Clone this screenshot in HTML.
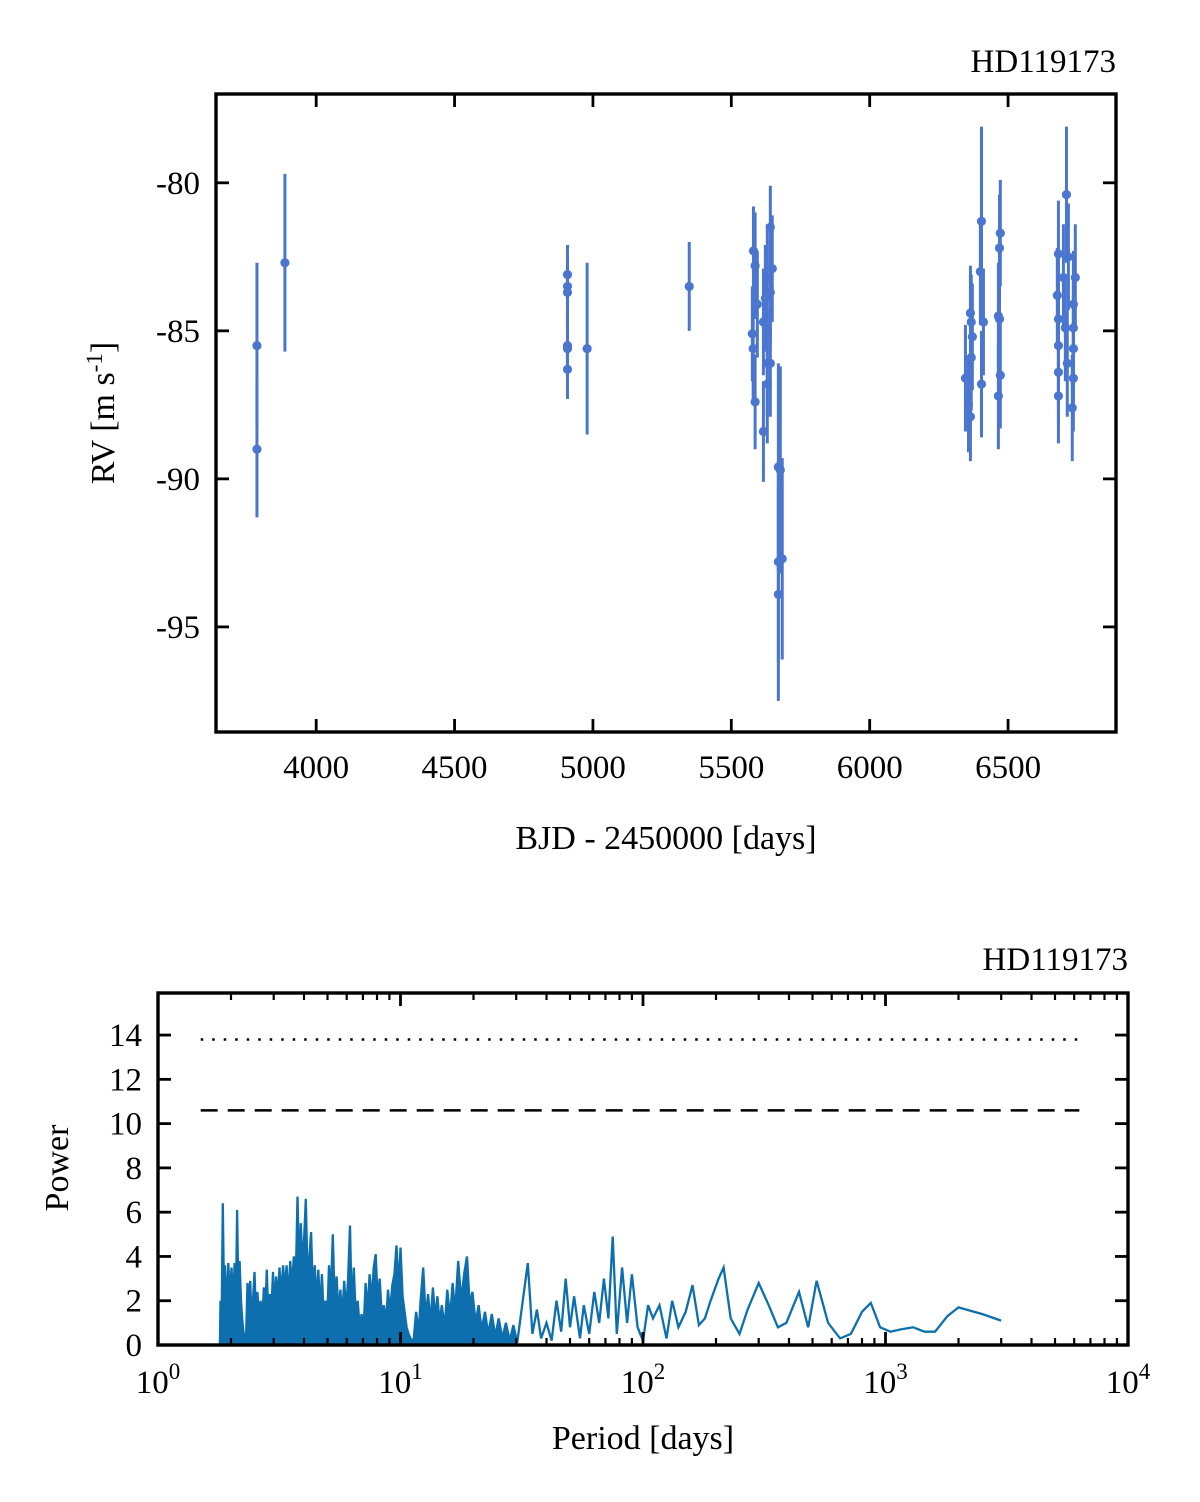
<!DOCTYPE html>
<html><head><meta charset="utf-8"><style>
html,body{margin:0;padding:0;background:#fff}
svg{display:block;font-family:"Liberation Serif",serif}
</style></head><body>
<svg id="svg" width="1200" height="1502" viewBox="0 0 1200 1502" xmlns="http://www.w3.org/2000/svg">
<g id="top"></g>
<g id="bot"></g>
</svg>
<script>
// ---- RV data: time, rv, error ----
const rvTime=[3786,3786,3887,4908,4908,4908,4908,4908,4908,4979,5348,
5641,5580,5586,5648,5630,5641,5594,5623,5616,5576,5579,5630,5641,5630,5586,5616,5670,5677,5684,5670,5670,
6404,6472,6469,6400,6364,6367,6371,6411,6465,6469,6367,6346,6404,6472,6465,6357,6364,
6711,6682,6718,6743,6678,6736,6682,6736,6682,6736,6682,6736,6682,6732,6707,6700,6714];
const rvValue=[-85.5,-89.0,-82.7,-83.1,-83.5,-83.7,-85.5,-85.6,-86.3,-85.6,-83.5,
-81.5,-82.3,-82.8,-82.9,-83.2,-83.7,-84.1,-83.9,-84.7,-85.1,-85.6,-86.1,-86.1,-86.8,-87.4,-88.4,-89.6,-89.7,-92.7,-92.8,-93.9,
-81.3,-81.7,-82.2,-83.0,-84.4,-84.7,-85.2,-84.7,-84.5,-84.6,-85.9,-86.6,-86.8,-86.5,-87.2,-87.5,-87.9,
-80.4,-82.4,-82.5,-83.2,-83.8,-84.1,-84.6,-84.9,-85.5,-85.6,-86.4,-86.6,-87.2,-87.6,-84.9,-83.2,-86.1];
const rvError=[2.8,2.3,3.0,1.0,1.0,1.0,1.0,1.0,1.0,2.9,1.5,
1.4,1.5,1.8,1.8,1.8,1.8,1.8,1.8,1.8,1.6,1.7,1.8,1.8,2.0,1.6,1.7,3.5,3.5,3.4,3.4,3.6,
3.2,1.8,1.8,1.8,1.6,1.6,1.8,1.8,1.8,1.8,1.8,1.8,1.8,1.8,1.8,1.6,1.5,
2.3,1.8,1.8,1.8,1.6,1.8,1.8,1.8,1.8,1.8,1.8,1.8,1.6,1.8,1.8,1.8,1.8];
const rvXTicks=[4000,4500,5000,5500,6000,6500];
const rvYTicks=[-80,-85,-90,-95];

// ---- Periodogram ----
const perPeriod=[1.80,1.81,1.83,1.85,1.87,1.89,1.92,1.95,1.98,2.01,2.04,2.07,2.10,2.12,2.14,2.17,2.20,2.23,2.27,2.31,2.34,2.37,2.40,2.43,2.47,2.50,2.53,2.57,2.61,2.65,2.69,2.73,2.77,2.81,2.85,2.89,2.93,2.98,3.02,3.07,3.12,3.17,3.22,3.28,3.33,3.39,3.45,3.51,3.57,3.63,3.70,3.76,3.82,3.88,3.94,4.01,4.07,4.14,4.21,4.28,4.35,4.43,4.50,4.58,4.66,4.74,4.82,4.90,4.98,5.07,5.16,5.26,5.35,5.45,5.55,5.65,5.75,5.86,5.97,6.08,6.19,6.30,6.42,6.54,6.66,6.78,6.91,7.04,7.18,7.32,7.46,7.60,7.75,7.90,8.05,8.21,8.37,8.54,8.71,8.88,9.06,9.25,9.44,9.63,9.83,10.0,10.2,10.4,10.6,10.8,11.0,11.3,11.6,11.9,12.1,12.4,12.7,13.0,13.3,13.6,13.9,14.2,14.5,14.8,15.2,15.6,16.0,16.4,16.8,17.3,17.8,18.3,18.8,19.3,19.8,20.4,21.0,21.6,22.3,23.0,23.8,24.6,25.4,26.3,27.2,28.2,29.2,30.3,
31.5,33.5,35,36.5,38,40,42,44,46,48,50,52,55,57,60,63,66,69,72,75,78,82,86,90,95,100,105,110,117,125,132,140,150,160,170,180,190,205,215,230,250,270,300,330,360,390,440,480,520,580,650,720,800,870,950,1050,1150,1300,1450,1600,1800,2000,2500,3000];
const perPower=[0,2.0,1.0,6.4,2.5,3.6,1.5,3.7,2.0,3.5,1.8,3.7,2.5,6.1,3.0,3.8,2.0,1.0,0.2,0.6,2.8,1.5,2.9,1.2,2.2,3.3,1.5,2.4,1.2,2.0,0.9,2.6,1.5,3.4,1.2,2.3,1.4,3.3,1.6,3.1,2.0,3.5,2.2,3.6,2.5,3.6,2.0,3.8,2.6,4.0,3.0,6.7,3.2,5.5,3.5,5.0,6.6,3.0,4.0,5.1,2.5,3.6,1.8,3.4,1.5,3.2,1.4,2.0,1.0,3.6,2.2,5.0,2.0,3.1,1.4,2.5,1.2,2.9,1.5,3.0,5.4,1.5,3.5,1.2,2.0,0.8,1.4,0.6,2.8,1.5,3.2,2.0,3.5,4.1,2.0,3.0,1.3,1.8,1.0,2.5,1.5,2.7,3.2,4.5,2.5,4.4,2.2,1.5,0.8,0.5,0.3,0.1,1.5,0.6,2.0,3.5,1.2,2.3,1.0,2.6,1.2,2.2,1.0,1.8,0.8,2.5,1.2,2.8,1.5,3.8,2.0,3.2,4.0,1.8,2.4,1.0,1.8,0.7,1.5,0.5,1.4,0.4,1.2,0.3,1.0,0.2,0.9,0.1,
1.5,3.7,0.5,1.6,0.3,1.0,0.2,2.0,0.6,3.0,0.8,2.2,0.3,1.8,0.5,2.4,1.0,3.0,1.2,4.9,0.5,3.5,1.0,3.2,0.8,0.2,1.8,1.2,1.8,0.3,2.0,0.8,1.5,2.7,0.9,1.2,2.0,3.0,3.5,1.2,0.5,1.6,2.8,1.8,0.8,1.0,2.4,0.8,2.9,1.0,0.3,0.5,1.5,1.9,0.8,0.6,0.7,0.8,0.6,0.6,1.3,1.7,1.4,1.1];
const fapLevels=[13.8,10.6];
const perYTicks=[0,2,4,6,8,10,12,14];
const perXDecades=[0,1,2,3,4];

const NS="http://www.w3.org/2000/svg";
function mk(parent,tag,attrs){const e=document.createElementNS(NS,tag);for(const k in attrs)e.setAttribute(k,attrs[k]);parent.appendChild(e);return e;}
const FS=33;

// ================= TOP =================
const topG=document.getElementById('top');
const T={l:216,r:1116,t:94,b:732,x0:3638,x1:6890,y0:-98.55,y1:-77.0};
const tx=v=>T.l+(v-T.x0)/(T.x1-T.x0)*(T.r-T.l);
const ty=v=>T.b-(v-T.y0)/(T.y1-T.y0)*(T.b-T.t);
const blue='#4a76cf';
for(let i=0;i<rvTime.length;i++){
  const x=tx(rvTime[i]);
  const l=mk(topG,'line',{x1:x,x2:x,y1:ty(rvValue[i]-rvError[i]),y2:ty(rvValue[i]+rvError[i]),stroke:blue,'stroke-width':3});
  
  
  const c=mk(topG,'circle',{cx:x,cy:ty(rvValue[i]),r:4.6,fill:blue});
  
  
}
rvXTicks.forEach(v=>{const x=tx(v);
  mk(topG,'line',{x1:x,x2:x,y1:T.b,y2:T.b-13,stroke:'#000','stroke-width':2.8});
  mk(topG,'line',{x1:x,x2:x,y1:T.t,y2:T.t+13,stroke:'#000','stroke-width':2.8});
  const t=mk(topG,'text',{x:x,y:T.b+46,'text-anchor':'middle','font-size':FS});t.textContent=v;
  
  
});
rvYTicks.forEach(v=>{const y=ty(v);
  mk(topG,'line',{x1:T.l,x2:T.l+13,y1:y,y2:y,stroke:'#000','stroke-width':2.8});
  mk(topG,'line',{x1:T.r,x2:T.r-13,y1:y,y2:y,stroke:'#000','stroke-width':2.8});
  const t=mk(topG,'text',{x:T.l-16,y:y+11,'text-anchor':'end','font-size':FS});t.textContent=v;
  
  
});
mk(topG,'rect',{x:T.l,y:T.t,width:T.r-T.l,height:T.b-T.t,fill:'none',stroke:'#000','stroke-width':3.4});
{let t=mk(topG,'text',{x:T.r,y:72,'text-anchor':'end','font-size':FS});t.textContent='HD119173';
 t=mk(topG,'text',{x:666,y:849,'text-anchor':'middle','font-size':34});t.textContent='BJD - 2450000 [days]';
 t=mk(topG,'text',{x:0,y:0,'text-anchor':'middle','font-size':34,transform:'translate(114,413) rotate(-90)'});
 t.innerHTML='RV [m s<tspan dy="-12" font-size="23">-1</tspan><tspan dy="12">]</tspan>';
 }

// ================= BOTTOM =================
const botG=document.getElementById('bot');
const B={l:158,r:1128,t:993,b:1345,y0:0,y1:15.9};
const bx=p=>B.l+Math.log10(p)/4*(B.r-B.l);
const by=v=>B.b-(v-B.y0)/(B.y1-B.y0)*(B.b-B.t);
const pcol='#0e6fae';
let fpts=[],lpts=[];
for(let i=0;i<perPeriod.length;i++){lpts.push(bx(perPeriod[i]).toFixed(1)+','+by(perPower[i]).toFixed(1));
  if(perPeriod[i]<=30.3)fpts.push(bx(perPeriod[i]).toFixed(1)+','+by(perPower[i]).toFixed(1));}
fpts.push(bx(30.3).toFixed(1)+','+B.b);fpts.push(bx(1.8).toFixed(1)+','+B.b);
{const f=mk(botG,'polygon',{points:fpts.join(' '),fill:pcol,stroke:'none'});
 const p=mk(botG,'polyline',{points:lpts.join(' '),fill:'none',stroke:pcol,'stroke-width':2.3});}
{const d1=mk(botG,'line',{x1:bx(1.5),x2:bx(6300),y1:by(fapLevels[0]),y2:by(fapLevels[0]),stroke:'#000','stroke-width':2.5,'stroke-dasharray':'2.5,9'});
 
 const d2=mk(botG,'line',{x1:bx(1.5),x2:bx(6300),y1:by(fapLevels[1]),y2:by(fapLevels[1]),stroke:'#000','stroke-width':2.5,'stroke-dasharray':'17,10'});
 }
perXDecades.forEach(d=>{const x=bx(Math.pow(10,d));
  mk(botG,'line',{x1:x,x2:x,y1:B.b,y2:B.b-13,stroke:'#000','stroke-width':2.8});
  mk(botG,'line',{x1:x,x2:x,y1:B.t,y2:B.t+13,stroke:'#000','stroke-width':2.8});
  if(d<4)for(let m=2;m<10;m++){const xm=bx(m*Math.pow(10,d));
    mk(botG,'line',{x1:xm,x2:xm,y1:B.b,y2:B.b-7,stroke:'#000','stroke-width':2.2});
    mk(botG,'line',{x1:xm,x2:xm,y1:B.t,y2:B.t+7,stroke:'#000','stroke-width':2.2});}
  const t=mk(botG,'text',{x:x,y:B.b+48,'text-anchor':'middle','font-size':FS});
  t.innerHTML='10<tspan dy="-14" font-size="23">'+d+'</tspan>';
  
});
perYTicks.forEach(v=>{const y=by(v);
  mk(botG,'line',{x1:B.l,x2:B.l+13,y1:y,y2:y,stroke:'#000','stroke-width':2.8});
  mk(botG,'line',{x1:B.r,x2:B.r-13,y1:y,y2:y,stroke:'#000','stroke-width':2.8});
  const t=mk(botG,'text',{x:B.l-16,y:y+11,'text-anchor':'end','font-size':FS});t.textContent=v;
  
});
mk(botG,'rect',{x:B.l,y:B.t,width:B.r-B.l,height:B.b-B.t,fill:'none',stroke:'#000','stroke-width':3.4});
{let t=mk(botG,'text',{x:B.r,y:970,'text-anchor':'end','font-size':FS});t.textContent='HD119173';
 t=mk(botG,'text',{x:643,y:1449,'text-anchor':'middle','font-size':34});t.textContent='Period [days]';
 t=mk(botG,'text',{x:0,y:0,'text-anchor':'middle','font-size':34,transform:'translate(68,1168) rotate(-90)'});t.textContent='Power';}
</script>
</body></html>
